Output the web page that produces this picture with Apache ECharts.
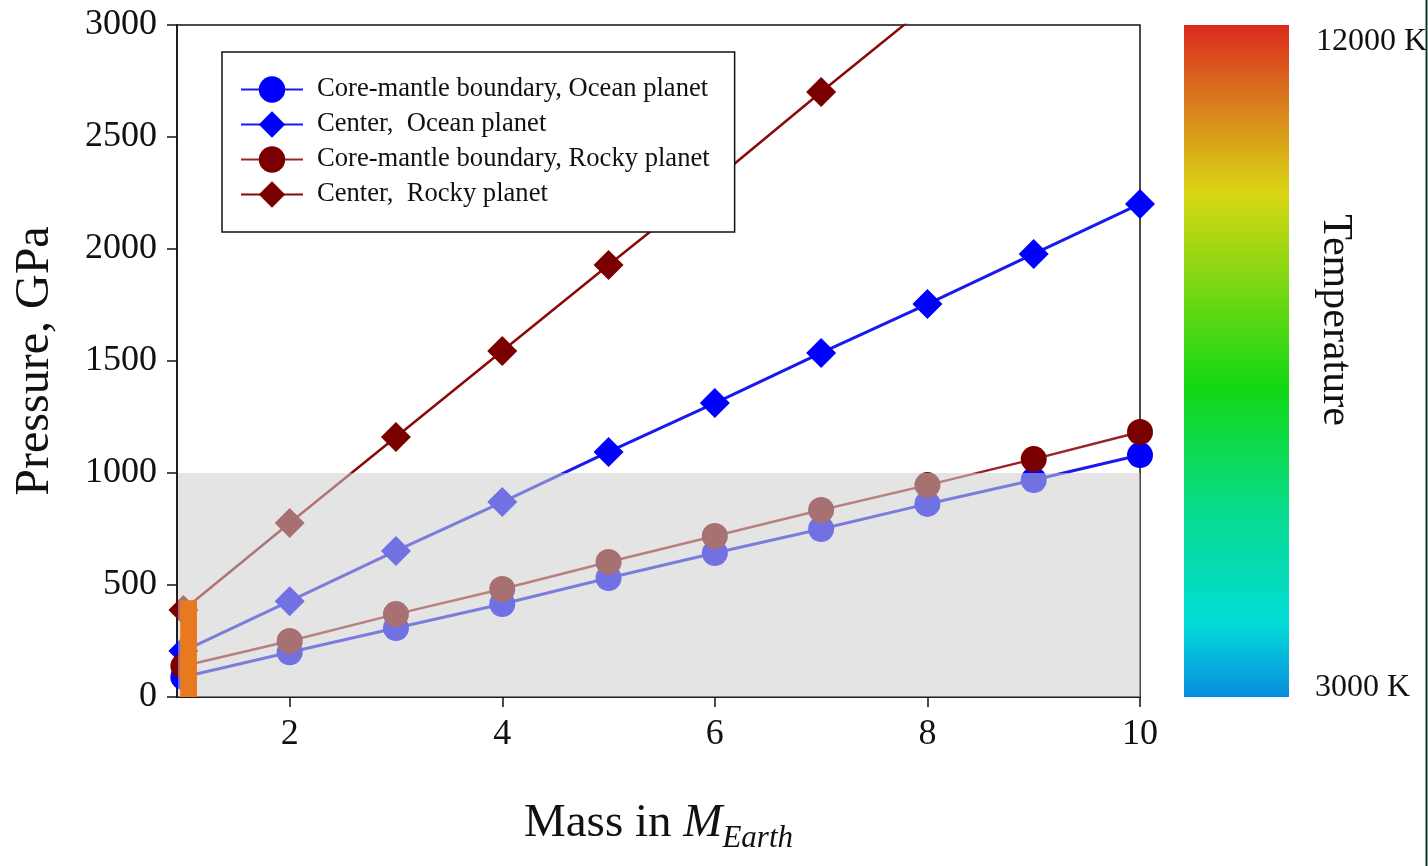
<!DOCTYPE html>
<html>
<head>
<meta charset="utf-8">
<script src="https://cdn.jsdelivr.net/npm/echarts@6/dist/echarts.min.js"></script>
<style>
  html, body { margin: 0; padding: 0; background: #fff; }
  #chart { width: 1428px; height: 866px; }
</style>
</head>
<body>
<div id="chart"></div>
<script>
const myChart = echarts.init(document.getElementById('chart'));

// masses in Earth masses, pressures in GPa
const masses = [1, 2, 3, 4, 5, 6, 7, 8, 9, 10];
const oceanCmb = [89, 200, 308, 415, 531, 643, 750, 862, 969, 1080];
const oceanCenter = [205, 428, 652, 870, 1094, 1312, 1536, 1754, 1978, 2201];
const rockyCmb = [138, 250, 370, 482, 603, 719, 835, 946, 1062, 1183];
const rockyCenter = [388, 777, 1161, 1545, 1929, 2308, 2701, 3085, null, null];
const seriesNames = [
  'Core-mantle boundary, Ocean planet',
  'Center,  Ocean planet',
  'Core-mantle boundary, Rocky planet',
  'Center,  Rocky planet'
];
const xTicks = [2, 4, 6, 8, 10];
const tempLabels = ['12000 K', '3000 K'];
// [xFrom, yTop, xTo, yBottom] in data units
const shadedBand = [0.95, 1000, 10, 0];
const orangeBar = [0.97, 432, 1.128, 0];

const serif = 'Liberation Serif';
const pairs = (ys) => masses.map((m, i) => [m, ys[i]]);

function lineSeries (name, ys, symbol, size, color, lineColor, width) {
  return {
    name: name,
    type: 'line',
    data: pairs(ys),
    symbol: symbol,
    symbolSize: size,
    z: 3,
    itemStyle: { color: color },
    lineStyle: { color: lineColor, width: width },
    emphasis: { disabled: true }
  };
}

function boxSeries (box, fill, z) {
  return {
    type: 'custom',
    z: z,
    silent: true,
    data: [box],
    encode: { x: [0, 2], y: [1, 3] },
    renderItem: function (params, api) {
      const p0 = api.coord([api.value(0), api.value(1)]);
      const p1 = api.coord([api.value(2), api.value(3)]);
      return {
        type: 'rect',
        shape: { x: p0[0], y: p0[1], width: p1[0] - p0[0], height: p1[1] - p0[1] },
        style: { fill: fill }
      };
    }
  };
}

const option = {
  animation: false,
  backgroundColor: '#fff',
  grid: {
    left: 177,
    top: 25,
    right: 288,
    bottom: 169,
    show: true,
    borderColor: '#111',
    borderWidth: 1.5,
    backgroundColor: 'transparent'
  },
  legend: {
    data: seriesNames,
    orient: 'vertical',
    left: 222,
    top: 52,
    padding: [24, 25, 24, 18],
    itemGap: 8,
    itemWidth: 62,
    itemHeight: 33,
    backgroundColor: '#fff',
    borderColor: '#111',
    borderWidth: 1.5,
    borderRadius: 0,
    textStyle: {
      fontFamily: serif,
      fontSize: 26.6,
      color: '#111',
      padding: [0, 0, 0, 9]
    }
  },
  xAxis: {
    type: 'value',
    min: 0.94,
    max: 10,
    splitLine: { show: false },
    axisLine: { onZero: false, lineStyle: { color: '#111', width: 1.5 } },
    axisTick: { customValues: xTicks, length: 10, lineStyle: { color: '#111', width: 1.5 } },
    axisLabel: {
      customValues: xTicks,
      fontFamily: serif,
      fontSize: 36,
      color: '#111',
      margin: 20
    },
    name: '{n|Mass in }{i|M}{s|Earth}',
    nameLocation: 'middle',
    nameGap: 103,
    nameTextStyle: {
      fontFamily: serif,
      color: '#111',
      rich: {
        n: { fontFamily: serif, fontSize: 47, color: '#111', verticalAlign: 'bottom', padding: [0, 0, 7, 0] },
        i: { fontFamily: serif, fontSize: 47, fontStyle: 'italic', color: '#111', verticalAlign: 'bottom', padding: [0, 0, 7, 0] },
        s: { fontFamily: serif, fontSize: 31, fontStyle: 'italic', color: '#111', verticalAlign: 'bottom' }
      }
    }
  },
  yAxis: {
    type: 'value',
    min: 0,
    max: 3000,
    interval: 500,
    splitLine: { show: false },
    axisLine: { show: true, lineStyle: { color: '#111', width: 1.5 } },
    axisTick: { show: true, length: 10, lineStyle: { color: '#111', width: 1.5 } },
    axisLabel: {
      fontFamily: serif,
      fontSize: 36,
      color: '#111',
      margin: 20,
      formatter: (v) => String(v)
    },
    name: 'Pressure, GPa',
    nameLocation: 'middle',
    nameGap: 118,
    nameTextStyle: { fontFamily: serif, fontSize: 48, color: '#111' }
  },
  series: [
    lineSeries(seriesNames[0], oceanCmb, 'circle', 26, '#0000ff', '#1a1af0', 3),
    lineSeries(seriesNames[1], oceanCenter, 'diamond', 30, '#0000ff', '#1a1af0', 3),
    lineSeries(seriesNames[2], rockyCmb, 'circle', 26, '#7a0000', '#9a2424', 2.5),
    lineSeries(seriesNames[3], rockyCenter, 'diamond', 30, '#7a0000', '#8a0a0a', 2.5),
    // translucent grey band below 1000 GPa, drawn over the lines
    boxSeries(shadedBand, 'rgba(205,205,205,0.55)', 5),
    // orange marker at 1 Earth mass
    boxSeries(orangeBar, '#e8791f', 6)
  ],
  graphic: [
    {
      type: 'rect',
      shape: { x: 1184, y: 25, width: 105, height: 672 },
      style: {
        fill: new echarts.graphic.LinearGradient(0, 0, 0, 1, [
          { offset: 0, color: '#dc2a1e' },
          { offset: 0.12, color: '#d97f1e' },
          { offset: 0.25, color: '#dad612' },
          { offset: 0.54, color: '#12d814' },
          { offset: 0.72, color: '#08dc8c' },
          { offset: 0.89, color: '#02dcd6' },
          { offset: 1, color: '#0a8ce0' }
        ])
      }
    },
    {
      type: 'text',
      x: 1316,
      y: 42,
      style: { text: tempLabels[0], fontFamily: serif, fontSize: 32, fill: '#111', verticalAlign: 'middle' }
    },
    {
      type: 'text',
      x: 1315,
      y: 688,
      style: { text: tempLabels[1], fontFamily: serif, fontSize: 32, fill: '#111', verticalAlign: 'middle' }
    },
    {
      type: 'text',
      x: 1335,
      y: 320,
      rotation: -Math.PI / 2,
      style: { text: 'Temperature', fontFamily: serif, fontSize: 42, fill: '#111', align: 'center', verticalAlign: 'middle' }
    },
    {
      type: 'line',
      shape: { x1: 1426.5, y1: 0, x2: 1426.5, y2: 866 },
      style: { stroke: '#0b3a28', lineWidth: 2 }
    }
  ]
};

myChart.setOption(option);
</script>
</body>
</html>
